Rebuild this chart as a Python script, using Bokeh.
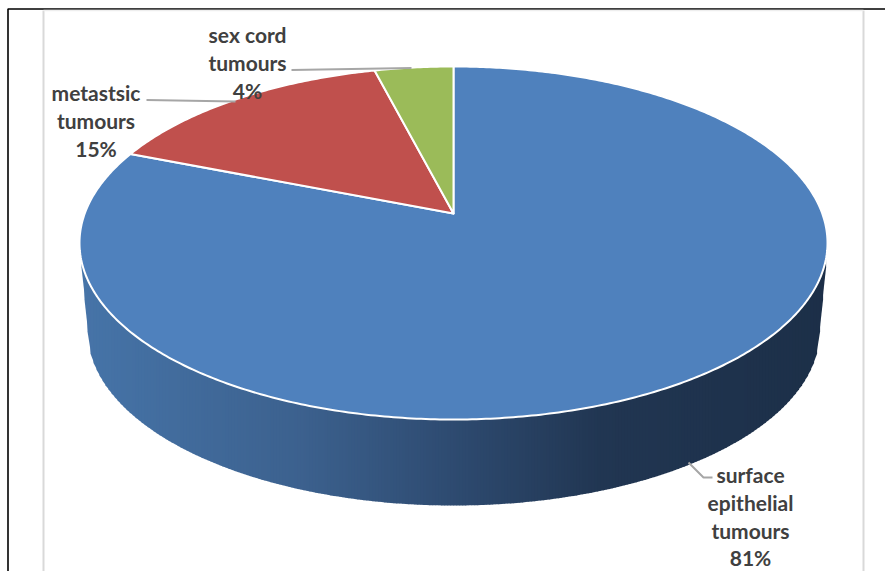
import math

from bokeh.core.properties import value
from bokeh.embed import file_html
from bokeh.models import ColumnDataSource, Range1d
from bokeh.plotting import figure
from bokeh.resources import INLINE

# Chart data
categories = ["surface epithelial tumours", "metastsic tumours", "sex cord tumours"]
shares = [81, 15, 4]
label_lines = [
    ["surface", "epithelial", "tumours", "81%"],
    ["metastsic", "tumours", "15%"],
    ["sex cord", "tumours", "4%"],
]
slice_colors = ["#4f81bd", "#c0504d", "#9bbb59"]

# Pie geometry in page pixels
CX, CY, RX, RY = 453.0, 242.5, 374.0, 176.5
APEX_Y = 213.0
BASE_CX, BASE_CY, BASE_RX, BASE_RY = 453.0, 331.0, 366.0, 174.0
TILT = (CY - APEX_Y) / RY

# Side wall shading, left to right
wall_stops = [
    (81, (70, 116, 168)),
    (300, (60, 97, 142)),
    (450, (46, 75, 113)),
    (600, (33, 54, 82)),
    (825, (28, 47, 72)),
]


def rim_point(turn):
    """Project a point on the pie's rim, given as a fraction of a clockwise turn."""
    a = 2 * math.pi * turn
    u, v = math.sin(a), math.cos(a)
    d = 1 + TILT * v
    return (CX + RX * u * math.sqrt(1 - TILT ** 2) / d,
            CY - RY * (v + TILT) / d)


def wall_color(x):
    for (x0, c0), (x1, c1) in zip(wall_stops, wall_stops[1:]):
        if x <= x1:
            t = (x - x0) / (x1 - x0)
            return "#%02x%02x%02x" % tuple(round(a + (b - a) * t) for a, b in zip(c0, c1))
    return "#%02x%02x%02x" % wall_stops[-1][1]


def lower_edge(x, cx, cy, rx, ry):
    t = max(0.0, 1 - ((x - cx) / rx) ** 2)
    return cy + ry * math.sqrt(t)


p = figure(width=885, height=571, output_backend="svg", toolbar_location=None,
           x_range=Range1d(0, 885), y_range=Range1d(571, 0),
           min_border=0, outline_line_color=None, background_fill_color="white",
           border_fill_color="white")
p.axis.visible = False
p.grid.visible = False

# Frame of the page and the chart area inside it
p.line([7.5, 7.5, 885], [571, 8.5, 8.5], line_color="#000000", line_width=1.6)
p.line([43, 43], [10, 571], line_color="#d9d9d9", line_width=2)
p.line([863, 863], [10, 571], line_color="#d9d9d9", line_width=2)
p.line([43, 863], [10, 10], line_color="#eeeeee", line_width=1.5)

# Side wall, built from narrow vertical strips
wall_left, wall_right = 81.0, 825.0
strip_xs, strip_ys, strip_colors = [], [], []
x = wall_left
while x < wall_right:
    x2 = min(x + 3, wall_right)
    tops = [lower_edge(v, CX, CY, RX, RY) - 3 for v in (x, x2)]
    bottoms = []
    for v in (x, x2):
        if v < BASE_CX - BASE_RX:
            bottoms.append(267 + (v - wall_left) * (BASE_CY - 267) / (BASE_CX - BASE_RX - wall_left))
        elif v > BASE_CX + BASE_RX:
            bottoms.append(267 + (wall_right - v) * (BASE_CY - 267) / (wall_right - BASE_CX - BASE_RX))
        else:
            bottoms.append(lower_edge(v, BASE_CX, BASE_CY, BASE_RX, BASE_RY))
    strip_xs.append([x, x2 + 0.6, x2 + 0.6, x])
    strip_ys.append([tops[0], tops[1], bottoms[1], bottoms[0]])
    strip_colors.append(wall_color((x + x2) / 2))
    x = x2
p.patches(strip_xs, strip_ys, fill_color=strip_colors, line_color=None)

# Top face: one wedge per category, starting at twelve o'clock and running clockwise
start = 0.0
total = sum(shares)
slice_xs, slice_ys = [], []
for share in shares:
    stop = start + share / total
    n = max(8, int(share * 6))
    rim = [rim_point(start + (stop - start) * i / n) for i in range(n + 1)]
    slice_xs.append([CX] + [q[0] for q in rim])
    slice_ys.append([APEX_Y] + [q[1] for q in rim])
    start = stop
source = ColumnDataSource(dict(xs=slice_xs, ys=slice_ys, color=slice_colors, name=categories))
p.patches("xs", "ys", source=source, fill_color="color", line_color="white", line_width=2,
          line_join="round")

# Leader lines
leader_color = "#a6a6a6"
p.line([146, 235], [99.5, 101], line_color=leader_color, line_width=2)
p.line([291, 411], [69.5, 67.5], line_color=leader_color, line_width=2)
p.line([688, 703, 712], [462, 477, 477], line_color=leader_color, line_width=2)

# Labels, one centred stack of lines per slice
LINE_STEP = 27.8
anchors = [(750, 474), (95.5, 92), (247, 34)]
for (ax, ay), lines in zip(anchors, label_lines):
    p.text([ax] * len(lines), [ay + i * LINE_STEP for i in range(len(lines))], text=lines,
           text_font=value("Lato"), text_font_style="bold", text_font_size="21px",
           text_color="#404040", text_align="center", text_baseline="middle")

open("out.html", "w").write(file_html(p, INLINE))
